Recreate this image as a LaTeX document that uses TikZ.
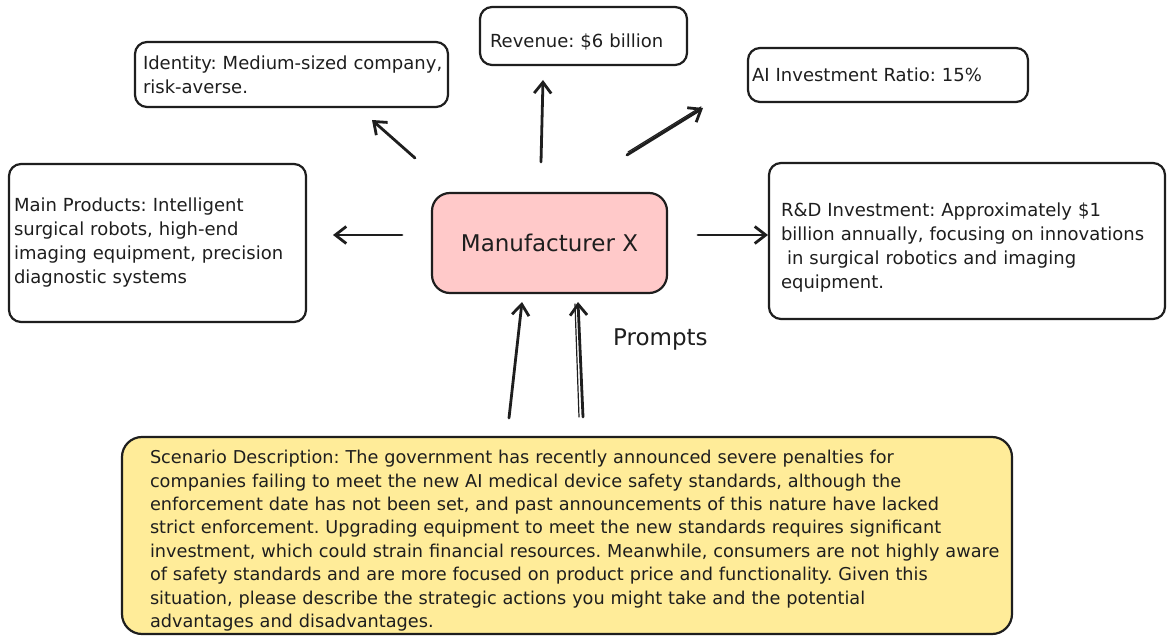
\documentclass[tikz,border=0pt]{standalone}
\usepackage{fontspec}
\setmainfont{DejaVu Sans}
\usetikzlibrary{arrows.meta}
\definecolor{ink}{HTML}{1E1E1E}
\definecolor{pinkfill}{HTML}{FFC9C9}
\definecolor{yellowfill}{HTML}{FFEC99}
\newcommand{\ml}[1]{\mbox{#1}}
\frenchspacing
\tikzset{
  card/.style={draw=ink, line width=2.2pt, rounded corners=12pt, align=left,
    font=\fontsize{18}{24}\selectfont, text=ink, inner ysep=0pt},
  arr/.style={draw=ink, line width=2.8pt, line cap=round,
    -{Straight Barb[length=11pt,width=17pt,line width=2.8pt]}},
  ghost/.style={draw=ink, line width=1.2pt, line cap=round},
}
\begin{document}
\begin{tikzpicture}[x=1pt,y=-1pt]
\useasboundingbox (0,0) rectangle (1167,636);
\fill[white] (0,0) rectangle (1167,636);

% boxes
\node[card, minimum width=313pt, minimum height=65pt, inner xsep=8pt, text width=297pt] (idb) at (291.5,74.5)
  {\ml{Identity: Medium-sized company,}\\\ml{risk-averse.}};
\node[card, minimum width=207pt, minimum height=58pt, inner xsep=10pt, text width=187pt] (rev) at (583.5,36)
  {\ml{\rule{0pt}{25pt}Revenue: \$6 billion}};
\node[card, minimum width=280pt, minimum height=54pt, inner xsep=4pt, text width=272pt] (ai) at (888,75)
  {\ml{AI Investment Ratio: 15\%}};
\node[card, minimum width=297pt, minimum height=158pt, inner xsep=5pt, text width=287pt] (mp) at (157.5,243)
  {\ml{Main Products: Intelligent}\\\ml{surgical robots, high-end}\\\ml{imaging equipment, precision}\\\ml{diagnostic systems}};
\node[card, fill=pinkfill, rounded corners=18pt, minimum width=235pt, minimum height=100pt, align=center,
  font=\fontsize{23}{28}\selectfont] (mx) at (549.5,243) {Manufacturer X};
\node[card, minimum width=396pt, minimum height=156pt, inner xsep=12pt, text width=372pt] (rd) at (967,241)
  {\ml{\rule{0pt}{26pt}R\&D Investment: Approximately \$1}\\\ml{billion annually, focusing on innovations}\\\ml{\ in surgical robotics and imaging}\\\ml{equipment.}};
\node[card, fill=yellowfill, rounded corners=20pt, minimum width=890pt, minimum height=197pt, inner xsep=28pt, text width=834pt,
  font=\fontsize{17.7}{23.4}\selectfont] (sc) at (567,535.5)
  {\ml{\rule{0pt}{24pt}Scenario Description: The government has recently announced severe penalties for}\\
   \ml{companies failing to meet the new AI medical device safety standards, although the}\\
   \ml{enforcement date has not been set, and past announcements of this nature have lacked}\\
   \ml{strict enforcement. Upgrading equipment to meet the new standards requires significant}\\
   \ml{investment, which could strain financial resources. Meanwhile, consumers are not highly aware}\\
   \ml{of safety standards and are more focused on product price and functionality. Given this}\\
   \ml{situation, please describe the strategic actions you might take and the potential}\\
   \ml{advantages and disadvantages.}};
\node[anchor=west, inner sep=0pt, text=ink, font=\fontsize{23}{28}\selectfont] (pr) at (613,340) {Prompts};

% arrow end points
\coordinate (a1s) at (415,158); \coordinate (a1e) at (372,120);
\coordinate (a2s) at (541,162); \coordinate (a2e) at (543,80);
\coordinate (a3s) at (627,155); \coordinate (a3e) at (703,108);
\coordinate (a4s) at (402,235); \coordinate (a4e) at (333,235);
\coordinate (a5s) at (698,235); \coordinate (a5e) at (768,235);
\coordinate (a6s) at (509,418); \coordinate (a6e) at (522,302);
\coordinate (a7s) at (583,417); \coordinate (a7e) at (578,302);

\draw[arr] (a1s) -- (a1e);
\draw[arr] (a2s) -- (a2e);
\draw[arr] (a3s) -- (a3e);
\draw[ghost] ([shift={(1,-3)}]a3s) -- ([shift={(-2,-1)}]a3e);
\draw[arr] (a4s) -- (a4e);
\draw[arr] (a5s) -- (a5e);
\draw[arr] (a6s) -- (a6e);
\draw[arr] (a7s) -- (a7e);
\draw[ghost] ([shift={(-4,0)}]a7s) -- ([shift={(-3,2)}]a7e);
\end{tikzpicture}
\end{document}
